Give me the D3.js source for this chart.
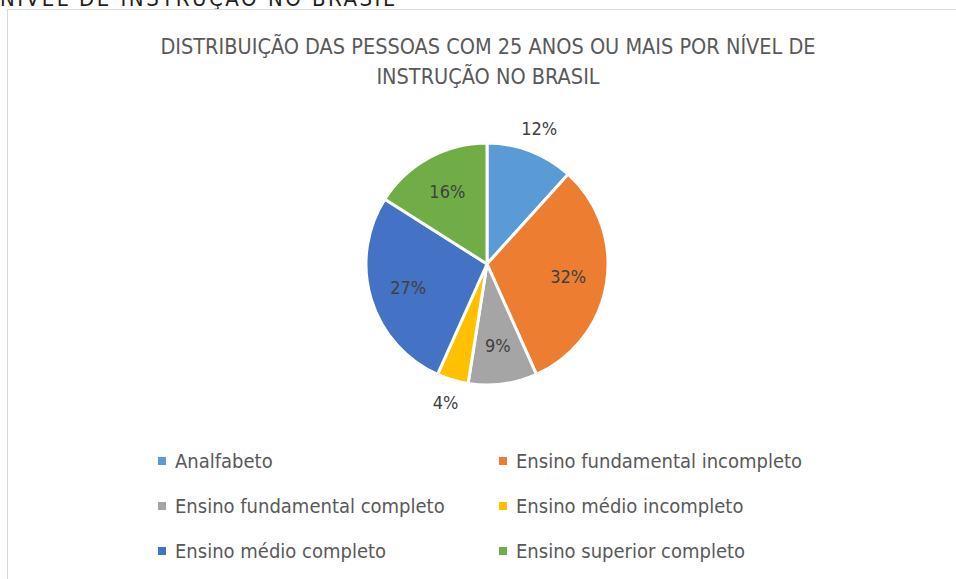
<!DOCTYPE html>
<html>
<head>
<meta charset="utf-8">
<script src="https://cdn.jsdelivr.net/npm/d3@7"></script>
<style>
  body { margin: 0; background: #fff; overflow: hidden; }
  svg { display: block; font-family: "Liberation Sans Narrow", "DejaVu Sans Condensed", "Liberation Sans", sans-serif; }
  .heading { font-size: 22px; fill: #1f1f1f; letter-spacing: 2.5px; }
  .title { font-size: 21.5px; fill: #595959; }
  .label { font-size: 18px; fill: #404040; }
  .legend text { font-size: 20px; fill: #595959; }
</style>
</head>
<body>
<svg width="956" height="579"></svg>
<script>
// categories, in drawing order (clockwise from 12 o'clock)
const categories = [
  "Analfabeto",
  "Ensino fundamental incompleto",
  "Ensino fundamental completo",
  "Ensino médio incompleto",
  "Ensino médio completo",
  "Ensino superior completo"
];
// share of people, %
const values = [11.7, 31.6, 9.2, 4.2, 27.3, 16.0];
const colors = ["#5b9bd5", "#ed7d31", "#a5a5a5", "#ffc000", "#4472c4", "#70ad47"];
// slices whose label sits outside the pie
const outside = ["Analfabeto", "Ensino médio incompleto"];

const titleLines = [
  "DISTRIBUIÇÃO DAS PESSOAS COM 25 ANOS OU MAIS POR NÍVEL DE",
  "INSTRUÇÃO NO BRASIL"
];

const svg = d3.select('svg');

// heading of the page, cut at the top
svg.append('text')
  .attr('class', 'heading')
  .attr('x', 0)
  .attr('y', 6)
  .text('NÍVEL DE INSTRUÇÃO NO BRASIL');

// chart frame
svg.append('rect')
  .attr('x', 7.5)
  .attr('y', 9.5)
  .attr('width', 1000)
  .attr('height', 700)
  .attr('fill', '#fff')
  .attr('stroke', '#d9d9d9')
  .attr('stroke-width', 1);

svg.append('g')
  .selectAll('text')
  .data(titleLines)
  .join('text')
  .attr('class', 'title')
  .attr('x', 488)
  .attr('y', (d, i) => 54 + i * 30)
  .attr('text-anchor', 'middle')
  .text(d => d);

const data = categories.map((c, i) => ({ name: c, value: values[i], color: colors[i] }));
const total = d3.sum(values);

const radius = 121;
const pie = d3.pie().sort(null).value(d => d.value);
const arc = d3.arc().innerRadius(0).outerRadius(radius);
const arcIn = d3.arc().innerRadius(radius * 0.68).outerRadius(radius * 0.68);
const arcOut = d3.arc().innerRadius(radius * 1.2).outerRadius(radius * 1.2);

const chart = svg.append('g')
  .attr('transform', `translate(487, 264)`);

const arcs = pie(data);

chart.selectAll('path')
  .data(arcs)
  .join('path')
  .attr('d', arc)
  .attr('fill', d => d.data.color)
  .attr('stroke', '#fff')
  .attr('stroke-width', 3)
  .attr('stroke-linejoin', 'round');

chart.selectAll('.label')
  .data(arcs)
  .join('text')
  .attr('class', 'label')
  .attr('transform', d => {
    const p = outside.includes(d.data.name) ? arcOut.centroid(d) : arcIn.centroid(d);
    return `translate(${p[0]}, ${p[1]})`;
  })
  .attr('text-anchor', 'middle')
  .attr('dy', '0.35em')
  .text(d => `${Math.round(d.data.value / total * 100)}%`);

// legend, two columns
const legend = svg.append('g').attr('class', 'legend');
const colX = d3.scalePoint().domain([0, 1]).range([162, 503]);
const rowY = d3.scalePoint().domain([0, 1, 2]).range([461, 551]);

const items = legend.selectAll('g')
  .data(data)
  .join('g')
  .attr('transform', (d, i) => `translate(${colX(i % 2)}, ${rowY(Math.floor(i / 2))})`);

items.append('rect')
  .attr('x', -4)
  .attr('y', -4)
  .attr('width', 8)
  .attr('height', 8)
  .attr('fill', d => d.color);

items.append('text')
  .attr('x', 13)
  .attr('dy', '0.35em')
  .text(d => d.name);
</script>
</body>
</html>
